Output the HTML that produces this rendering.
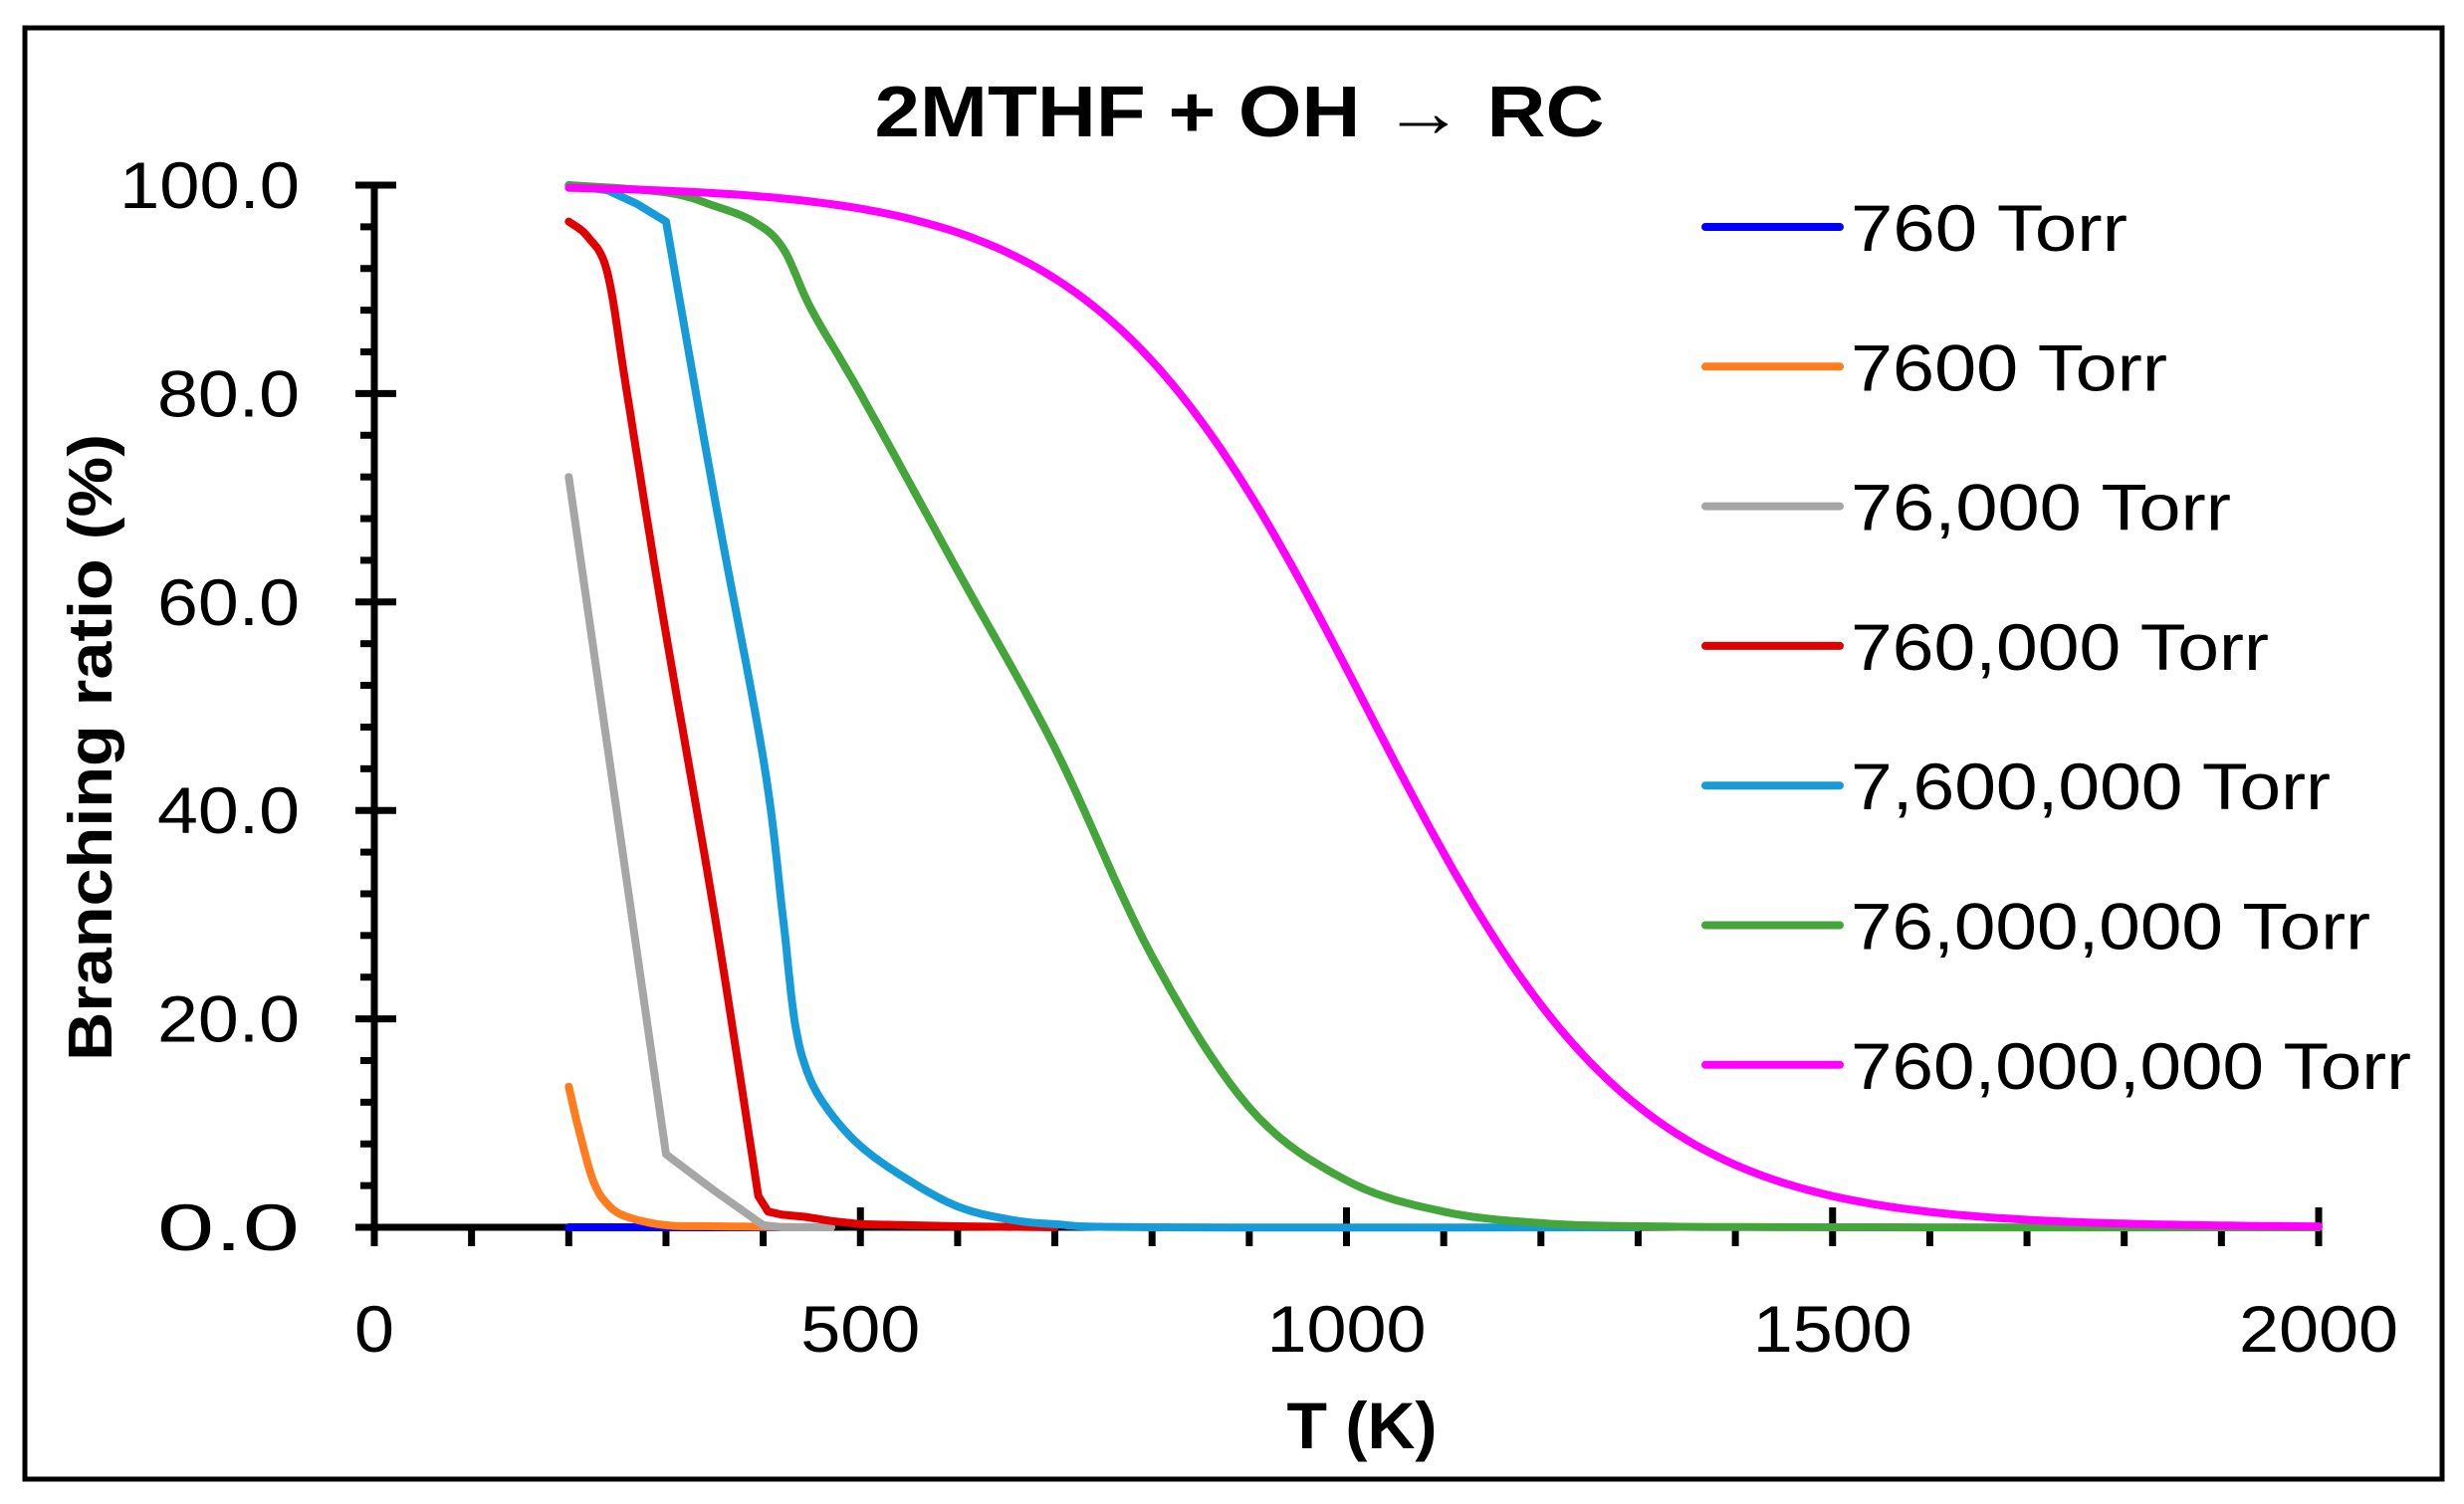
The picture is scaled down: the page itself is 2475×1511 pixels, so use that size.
<!DOCTYPE html>
<html><head><meta charset="utf-8"><style>html,body{margin:0;padding:0;background:#fff}svg{display:block}</style></head>
<body>
<svg id="s" width="2475" height="1511" viewBox="0 0 2475 1511" xmlns="http://www.w3.org/2000/svg" font-family="Liberation Sans, sans-serif">
<rect x="0" y="0" width="2475" height="1511" fill="#fff"/>
<rect x="25" y="28" width="2428" height="1458" fill="none" stroke="#000" stroke-width="5"/>
<text x="1245" y="137" font-size="72" font-weight="bold" text-anchor="middle" textLength="733" lengthAdjust="spacingAndGlyphs">2MTHF + OH → RC</text>
<text transform="translate(112,751) rotate(-90)" font-size="62" font-weight="bold" text-anchor="middle" textLength="630" lengthAdjust="spacingAndGlyphs">Branching ratio (%)</text>
<text x="1368" y="1455" font-size="66" font-weight="bold" text-anchor="middle" textLength="151" lengthAdjust="spacingAndGlyphs">T (K)</text>
<g id="axes" stroke="#000" stroke-width="7" fill="none"></g>
<g id="ylab" font-size="66" text-anchor="end"></g>
<g id="xlab" font-size="66" text-anchor="middle"></g>
<g id="series" fill="none" stroke-width="8" stroke-linejoin="round" stroke-linecap="round"></g>
<g id="legend" font-size="66"></g>
</svg>
<script>
var NS="http://www.w3.org/2000/svg";
function X(t){return 376+t*0.9765;}
function Y(v){return 1233-v*10.47;}
function el(p,tag,a,txt){var e=document.createElementNS(NS,tag);for(var k in a)e.setAttribute(k,a[k]);if(txt!==undefined)e.textContent=txt;document.getElementById(p).appendChild(e);return e;}
el("axes","line",{x1:376,y1:Y(100)-3,x2:376,y2:1236});
el("axes","line",{x1:373,y1:1233,x2:2332,y2:1233});
for(var i=0;i<=25;i++){var y=Y(i*4);if(i%5==0){el("axes","line",{x1:357,y1:y,x2:398,y2:y});}else{el("axes","line",{x1:362,y1:y,x2:376,y2:y});}}
for(var t=0;t<=2000;t+=100){var x=X(t);if(t%500==0&&t>0){el("axes","line",{x1:x,y1:1213,x2:x,y2:1252});}else{el("axes","line",{x1:x,y1:1233,x2:x,y2:1252});}}
for(var i=0;i<=5;i++){el("ylab","text",{x:301,y:Y(i*20)+23,textLength:(i==5?181:143),lengthAdjust:"spacingAndGlyphs"},(i*20).toFixed(1));}
for(var t=0;t<=2000;t+=500){var s=String(t);el("xlab","text",{x:X(t),y:1358,textLength:s.length*40,lengthAdjust:"spacingAndGlyphs"},s);}
function lin(pts){var d="";pts.forEach(function(p,i){d+=(i?"L":"M")+X(p[0]).toFixed(1)+","+Y(p[1]).toFixed(1);});return d;}
function sm(pts){var step=[];for(var i=0;i<pts.length-1;i++){var p0=pts[Math.max(0,i-1)],p1=pts[i],p2=pts[i+1],p3=pts[Math.min(pts.length-1,i+2)];for(var k=0;k<10;k++){var u=k/10,u2=u*u,u3=u2*u;var f=function(a,b,c,d){return 0.5*(2*b+(-a+c)*u+(2*a-5*b+4*c-d)*u2+(-a+3*b-3*c+d)*u3);};step.push([f(p0[0],p1[0],p2[0],p3[0]),f(p0[1],p1[1],p2[1],p3[1])]);}}step.push(pts[pts.length-1]);return step;}
function smooth(pts){return lin(sm(pts));}
var redPts=sm([[200,96.5],[220,95],[240,91.5],[260,80],[297,58.6],[350,30],[395,3]]).concat([[405,1.5],[420,1.2],[443,1],[470,0.6],[500,0.3],[600,0.1],[700,0]]);
var cyanPts=[[200,100],[240,99.5],[270,98.2]].concat(sm([[300,96.5],[350,70],[400,45],[420,30],[432,20],[445,15],[465,11.5],[500,7.8],[550,4.5],[600,2],[650,0.8],[700,0.3],[800,0],[1300,0]]));
var S=[
["#0000ff",lin([[200,0],[430,0]])],
["#ff7c1f",smooth([[200,13.5],[210,9.5],[225,4.5],[240,2.2],[260,1],[300,0.2],[350,0.1],[450,0]])],
["#a6a6a6",lin([[200,72],[300,7],[350,3.5],[400,0.2],[420,0],[470,0]])],
["#e00000",lin(redPts)],
["#169bd8",lin(cyanPts)],
["#44a63a",smooth([[200,100],[300,99.3],[350,98],[390,96.5],[420,94],[450,88],[500,80],[600,63],[700,46],[800,26],[900,11.5],[1000,4.5],[1100,1.5],[1200,0.4],[1300,0.1],[1500,0],[2000,0]])]
];
S.forEach(function(s){el("series","path",{d:s[1],stroke:s[0]});});
var m=[];for(var t=200;t<=2000;t+=10){m.push([t,100/(1+Math.exp((t-1020)/138))]);}
el("series","path",{d:lin(m),stroke:"#ff00ff"});
var L=[["#0000ff","760 Torr",278],["#ff7c1f","7600 Torr",318],["#a6a6a6","76,000 Torr",382],["#e00000","760,000 Torr",420],["#169bd8","7,600,000 Torr",482],["#44a63a","76,000,000 Torr",522],["#ff00ff","760,000,000 Torr",563]];
L.forEach(function(l,i){var y=228+i*140.3;el("legend","line",{x1:1713,y1:y,x2:1848,y2:y,stroke:l[0],"stroke-width":8,"stroke-linecap":"round"});el("legend","text",{x:1859,y:y+24,textLength:l[2],lengthAdjust:"spacingAndGlyphs"},l[1]);});
</script>
</body></html>
